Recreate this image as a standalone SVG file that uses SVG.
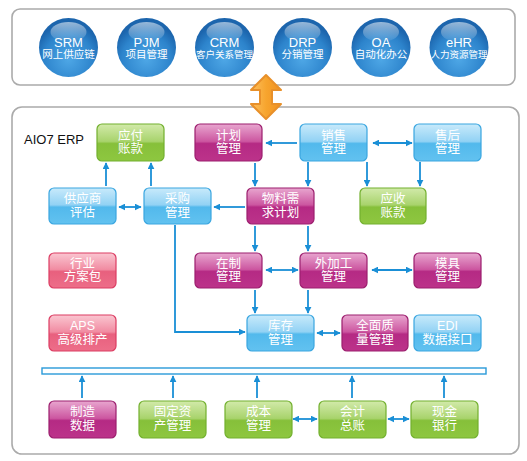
<svg xmlns="http://www.w3.org/2000/svg" width="527" height="461" viewBox="0 0 527 461">
<style>
.panel{fill:#fff;stroke:#ababab;stroke-width:1.6}
.n rect{stroke-width:1.2}
.blue rect{fill:url(#gBlue);stroke:#3aa6e0}
.green rect{fill:url(#gGreen);stroke:#72b02e}
.mag rect{fill:url(#gMag);stroke:#9c1e6e}
.pink rect{fill:url(#gPink);stroke:#dc3d63}
.n text{fill:#fff;font-family:"Liberation Sans","Noto Sans CJK SC",sans-serif;font-size:12.5px;text-anchor:middle}
.c text{fill:#fff;font-family:"Liberation Sans","Noto Sans CJK SC",sans-serif;text-anchor:middle}
.c .en{font-size:13px}
.c .zh{font-size:10.5px}
.c .zh6{font-size:9.5px}
.conn path{fill:none;stroke:#1a8fd6;stroke-width:1.8}
.title{font-family:"Liberation Sans",sans-serif;font-size:13px;fill:#111}
</style>
<defs>
<linearGradient id="gBlue" x1="0" y1="0" x2="0" y2="1">
<stop offset="0" stop-color="#c8eafb"/><stop offset="0.47" stop-color="#92d2f4"/><stop offset="0.53" stop-color="#52b9ec"/><stop offset="1" stop-color="#62c2f0"/>
</linearGradient>
<linearGradient id="gGreen" x1="0" y1="0" x2="0" y2="1">
<stop offset="0" stop-color="#d2eaaa"/><stop offset="0.47" stop-color="#a8d36c"/><stop offset="0.53" stop-color="#86c03a"/><stop offset="1" stop-color="#8ec740"/>
</linearGradient>
<linearGradient id="gMag" x1="0" y1="0" x2="0" y2="1">
<stop offset="0" stop-color="#e8a6cf"/><stop offset="0.47" stop-color="#cc56a0"/><stop offset="0.53" stop-color="#b52a84"/><stop offset="1" stop-color="#bc338a"/>
</linearGradient>
<linearGradient id="gPink" x1="0" y1="0" x2="0" y2="1">
<stop offset="0" stop-color="#fac6d1"/><stop offset="0.47" stop-color="#f18ca2"/><stop offset="0.53" stop-color="#e8607e"/><stop offset="1" stop-color="#ed6e89"/>
</linearGradient>
<radialGradient id="gSphere" cx="0.5" cy="0.7" r="0.6">
<stop offset="0" stop-color="#4ea7e6"/><stop offset="0.7" stop-color="#2d84cc"/><stop offset="1" stop-color="#1c65ad"/>
</radialGradient>
<linearGradient id="gHi" x1="0" y1="0" x2="0" y2="1">
<stop offset="0" stop-color="#fff" stop-opacity="0.55"/><stop offset="1" stop-color="#fff" stop-opacity="0.05"/>
</linearGradient>
<linearGradient id="gOrange" x1="0" y1="0" x2="1" y2="0">
<stop offset="0" stop-color="#fcc060"/><stop offset="0.5" stop-color="#f7a52e"/><stop offset="1" stop-color="#f09020"/>
</linearGradient>
<marker id="ah" viewBox="0 0 10 10" refX="9" refY="5" markerWidth="7" markerHeight="7" markerUnits="userSpaceOnUse" orient="auto-start-reverse">
<path d="M0,0 L10,5 L0,10 Z" fill="#1a8fd6"/>
</marker>
</defs>

<rect class="panel" x="12" y="9" width="503" height="76" rx="8"/>
<rect class="panel" x="12" y="107" width="507" height="347" rx="10"/>

<g id="sys-srm" class="c"><circle cx="68.5" cy="47.5" r="29.5" fill="url(#gSphere)"/><ellipse cx="68.5" cy="32" rx="18" ry="10" fill="url(#gHi)"/><text class="en" x="68.5" y="46.5">SRM</text><text class="zh" x="68.5" y="58">网上供应链</text></g>
<g id="sys-pjm" class="c"><circle cx="146.5" cy="47.5" r="29.5" fill="url(#gSphere)"/><ellipse cx="146.5" cy="32" rx="18" ry="10" fill="url(#gHi)"/><text class="en" x="146.5" y="46.5">PJM</text><text class="zh" x="146.5" y="58">项目管理</text></g>
<g id="sys-crm" class="c"><circle cx="224.5" cy="47.5" r="29.5" fill="url(#gSphere)"/><ellipse cx="224.5" cy="32" rx="18" ry="10" fill="url(#gHi)"/><text class="en" x="224.5" y="46.5">CRM</text><text class="zh6" x="224.5" y="58">客户关系管理</text></g>
<g id="sys-drp" class="c"><circle cx="302.5" cy="47.5" r="29.5" fill="url(#gSphere)"/><ellipse cx="302.5" cy="32" rx="18" ry="10" fill="url(#gHi)"/><text class="en" x="302.5" y="46.5">DRP</text><text class="zh" x="302.5" y="58">分销管理</text></g>
<g id="sys-oa" class="c"><circle cx="381" cy="47.5" r="29.5" fill="url(#gSphere)"/><ellipse cx="381" cy="32" rx="18" ry="10" fill="url(#gHi)"/><text class="en" x="381" y="46.5">OA</text><text class="zh" x="381" y="58">自动化办公</text></g>
<g id="sys-ehr" class="c"><circle cx="459" cy="47.5" r="29.5" fill="url(#gSphere)"/><ellipse cx="459" cy="32" rx="18" ry="10" fill="url(#gHi)"/><text class="en" x="459" y="46.5">eHR</text><text class="zh6" x="459" y="58">人力资源管理</text></g>

<g id="link-arrow">
<path d="M266,75 L281,90 L272,90 L272,104 L281,104 L266,119 L251,104 L260,104 L260,90 L251,90 Z" fill="url(#gOrange)" stroke="#e8902a" stroke-width="2" stroke-linejoin="round"/>
</g>

<text class="title" x="24" y="144">AIO7 ERP</text>

<g class="conn">
<path d="M297,143 L266,143" marker-end="url(#ah)"/>
<path d="M373,143 L412,143" marker-start="url(#ah)" marker-end="url(#ah)"/>
<path d="M308,162 L308,186" marker-end="url(#ah)"/>
<path d="M367,162 L367,186" marker-end="url(#ah)"/>
<path d="M420,162 L420,186" marker-end="url(#ah)"/>
<path d="M255,163 L255,186" marker-end="url(#ah)"/>
<path d="M245,207 L214,207" marker-end="url(#ah)"/>
<path d="M106,186 L106,163" marker-end="url(#ah)"/>
<path d="M151,186 L151,163" marker-end="url(#ah)"/>
<path d="M119,207 L141,207" marker-start="url(#ah)" marker-end="url(#ah)"/>
<path d="M255,226 L255,251" marker-end="url(#ah)"/>
<path d="M308,226 L308,251" marker-end="url(#ah)"/>
<path d="M266,270 L298,270" marker-start="url(#ah)" marker-end="url(#ah)"/>
<path d="M372,270 L412,270" marker-start="url(#ah)" marker-end="url(#ah)"/>
<path d="M255,290 L255,313" marker-end="url(#ah)"/>
<path d="M308,290 L308,313" marker-end="url(#ah)"/>
<path d="M317,333 L340,333" marker-start="url(#ah)" marker-end="url(#ah)"/>
<path d="M175,225 L175,332 L245,332" marker-end="url(#ah)"/>
<path d="M82,398 L82,376" marker-end="url(#ah)"/>
<path d="M173,398 L173,376" marker-end="url(#ah)"/>
<path d="M257,398 L257,376" marker-end="url(#ah)"/>
<path d="M352,398 L352,376" marker-end="url(#ah)"/>
<path d="M444,398 L444,376" marker-end="url(#ah)"/>
<path d="M293,419 L317,419" marker-start="url(#ah)" marker-end="url(#ah)"/>
<path d="M388,419 L409,419" marker-start="url(#ah)" marker-end="url(#ah)"/>
</g>

<rect id="bus" x="42" y="368" width="444" height="6" fill="#fff" stroke="#2a9ad9" stroke-width="1.4"/>

<g id="n-yingfu" class="n green"><rect x="97" y="124" width="67" height="37" rx="5"/><text x="130.5" y="139.5">应付</text><text x="130.5" y="153">账款</text></g>
<g id="n-jihua" class="n mag"><rect x="195" y="124" width="67" height="37" rx="5"/><text x="228.5" y="139.5">计划</text><text x="228.5" y="153">管理</text></g>
<g id="n-xiaoshou" class="n blue"><rect x="300" y="124" width="67" height="37" rx="5"/><text x="333.5" y="139.5">销售</text><text x="333.5" y="153">管理</text></g>
<g id="n-shouhou" class="n blue"><rect x="414" y="124" width="67" height="37" rx="5"/><text x="447.5" y="139.5">售后</text><text x="447.5" y="153">管理</text></g>

<g id="n-gys" class="n blue"><rect x="49" y="188" width="67" height="36" rx="5"/><text x="82.5" y="203">供应商</text><text x="82.5" y="216.5">评估</text></g>
<g id="n-caigou" class="n blue"><rect x="144" y="188" width="67" height="36" rx="5"/><text x="177.5" y="203">采购</text><text x="177.5" y="216.5">管理</text></g>
<g id="n-mrp" class="n mag"><rect x="247" y="188" width="67" height="36" rx="5"/><text x="280.5" y="203">物料需</text><text x="280.5" y="216.5">求计划</text></g>
<g id="n-yingshou" class="n green"><rect x="360" y="188" width="66" height="36" rx="5"/><text x="393" y="203">应收</text><text x="393" y="216.5">账款</text></g>

<g id="n-hangye" class="n pink"><rect x="49" y="253" width="67" height="35" rx="5"/><text x="82.5" y="267.5">行业</text><text x="82.5" y="281">方案包</text></g>
<g id="n-zaizhi" class="n mag"><rect x="195" y="253" width="67" height="35" rx="5"/><text x="228.5" y="267.5">在制</text><text x="228.5" y="281">管理</text></g>
<g id="n-waijiagong" class="n mag"><rect x="300" y="253" width="67" height="35" rx="5"/><text x="333.5" y="267.5">外加工</text><text x="333.5" y="281">管理</text></g>
<g id="n-moju" class="n mag"><rect x="414" y="253" width="67" height="35" rx="5"/><text x="447.5" y="267.5">模具</text><text x="447.5" y="281">管理</text></g>

<g id="n-aps" class="n pink"><rect x="49" y="315" width="67" height="36" rx="5"/><text x="82.5" y="330">APS</text><text x="82.5" y="343.5">高级排产</text></g>
<g id="n-kucun" class="n blue"><rect x="247" y="315" width="67" height="36" rx="5"/><text x="280.5" y="330">库存</text><text x="280.5" y="343.5">管理</text></g>
<g id="n-zhiliang" class="n mag"><rect x="342" y="315" width="66" height="36" rx="5"/><text x="375" y="330">全面质</text><text x="375" y="343.5">量管理</text></g>
<g id="n-edi" class="n blue"><rect x="414" y="315" width="67" height="36" rx="5"/><text x="447.5" y="330">EDI</text><text x="447.5" y="343.5">数据接口</text></g>

<g id="n-zhizao" class="n mag"><rect x="49" y="401" width="67" height="37" rx="5"/><text x="82.5" y="416">制造</text><text x="82.5" y="429.5">数据</text></g>
<g id="n-guding" class="n green"><rect x="139" y="401" width="67" height="37" rx="5"/><text x="172.5" y="416">固定资</text><text x="172.5" y="429.5">产管理</text></g>
<g id="n-chengben" class="n green"><rect x="225" y="401" width="67" height="37" rx="5"/><text x="258.5" y="416">成本</text><text x="258.5" y="429.5">管理</text></g>
<g id="n-kuaiji" class="n green"><rect x="319" y="401" width="67" height="37" rx="5"/><text x="352.5" y="416">会计</text><text x="352.5" y="429.5">总账</text></g>
<g id="n-xianjin" class="n green"><rect x="411" y="401" width="67" height="37" rx="5"/><text x="444.5" y="416">现金</text><text x="444.5" y="429.5">银行</text></g>
</svg>
